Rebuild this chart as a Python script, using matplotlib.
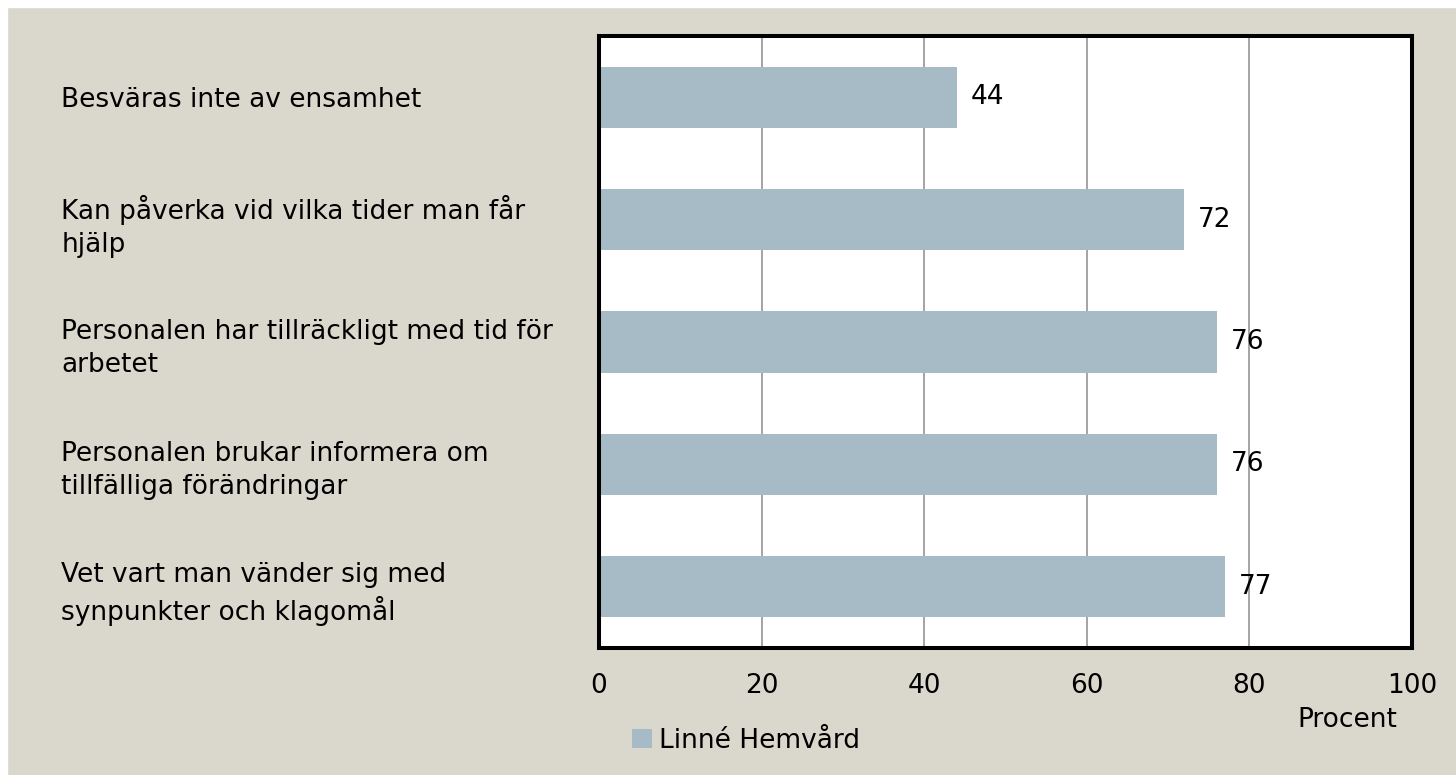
import numpy as np
import matplotlib.pyplot as plt
from matplotlib.patches import Rectangle

# Data
categories = [
    "Besväras inte av ensamhet",
    "Kan påverka vid vilka tider man får\nhjälp",
    "Personalen har tillräckligt med tid för\narbetet",
    "Personalen brukar informera om\ntillfälliga förändringar",
    "Vet vart man vänder sig med\nsynpunkter och klagomål",
]
values = [44, 72, 76, 76, 77]
series_name = "Linné Hemvård"
xticks = [0, 20, 40, 60, 80, 100]

bg = "#DAD8CC"
bar_color = "#A7BBC6"

plt.rcParams['font.family'] = ['DejaVu Sans']
fs = 19

fig = plt.figure(figsize=(14.56, 7.75), dpi=100, facecolor=bg)
# thin white margin top and left, like the original export
fig.patches.append(Rectangle((0, 0.991), 1, 0.009, transform=fig.transFigure,
                             color="white", zorder=-1))
fig.patches.append(Rectangle((0, 0), 0.0048, 1, transform=fig.transFigure,
                             color="white", zorder=-1))

ax = fig.add_axes([0.4114, 0.1639, 0.5584, 0.7897])
ax.set_facecolor("white")

y = np.arange(len(categories))
bars = ax.barh(y, values, height=0.5, color=bar_color, label=series_name, zorder=2)
ax.bar_label(bars, labels=[str(v) for v in values], padding=10, fontsize=fs, zorder=3)

ax.set_xlim(0, 100)
ax.set_ylim(len(categories) - 0.5, -0.5)
ax.set_xticks(xticks)
ax.set_xticklabels([str(t) for t in xticks], fontsize=fs)
ax.xaxis.grid(True, color="#8C8C8C", linewidth=1.1, zorder=1)
ax.set_axisbelow(True)

ax.set_yticks(y)
ax.set_yticklabels(categories, fontsize=fs, ha="left", linespacing=1.35)
ax.tick_params(axis="y", length=0, pad=387)
ax.tick_params(axis="x", length=0, pad=18)

for s in ax.spines.values():
    s.set_linewidth(2.9)
    s.set_color("black")

ax.set_xlabel("Procent", fontsize=fs)
ax.xaxis.set_label_coords(0.921, -0.096)

fig.legend(handles=[bars], labels=[series_name], loc="center left",
           bbox_to_anchor=(0.418, 0.044), frameon=False, fontsize=fs,
           handlelength=0.75, handleheight=0.75, handletextpad=0.25)

fig.savefig("out.png", dpi=100, facecolor=bg)
